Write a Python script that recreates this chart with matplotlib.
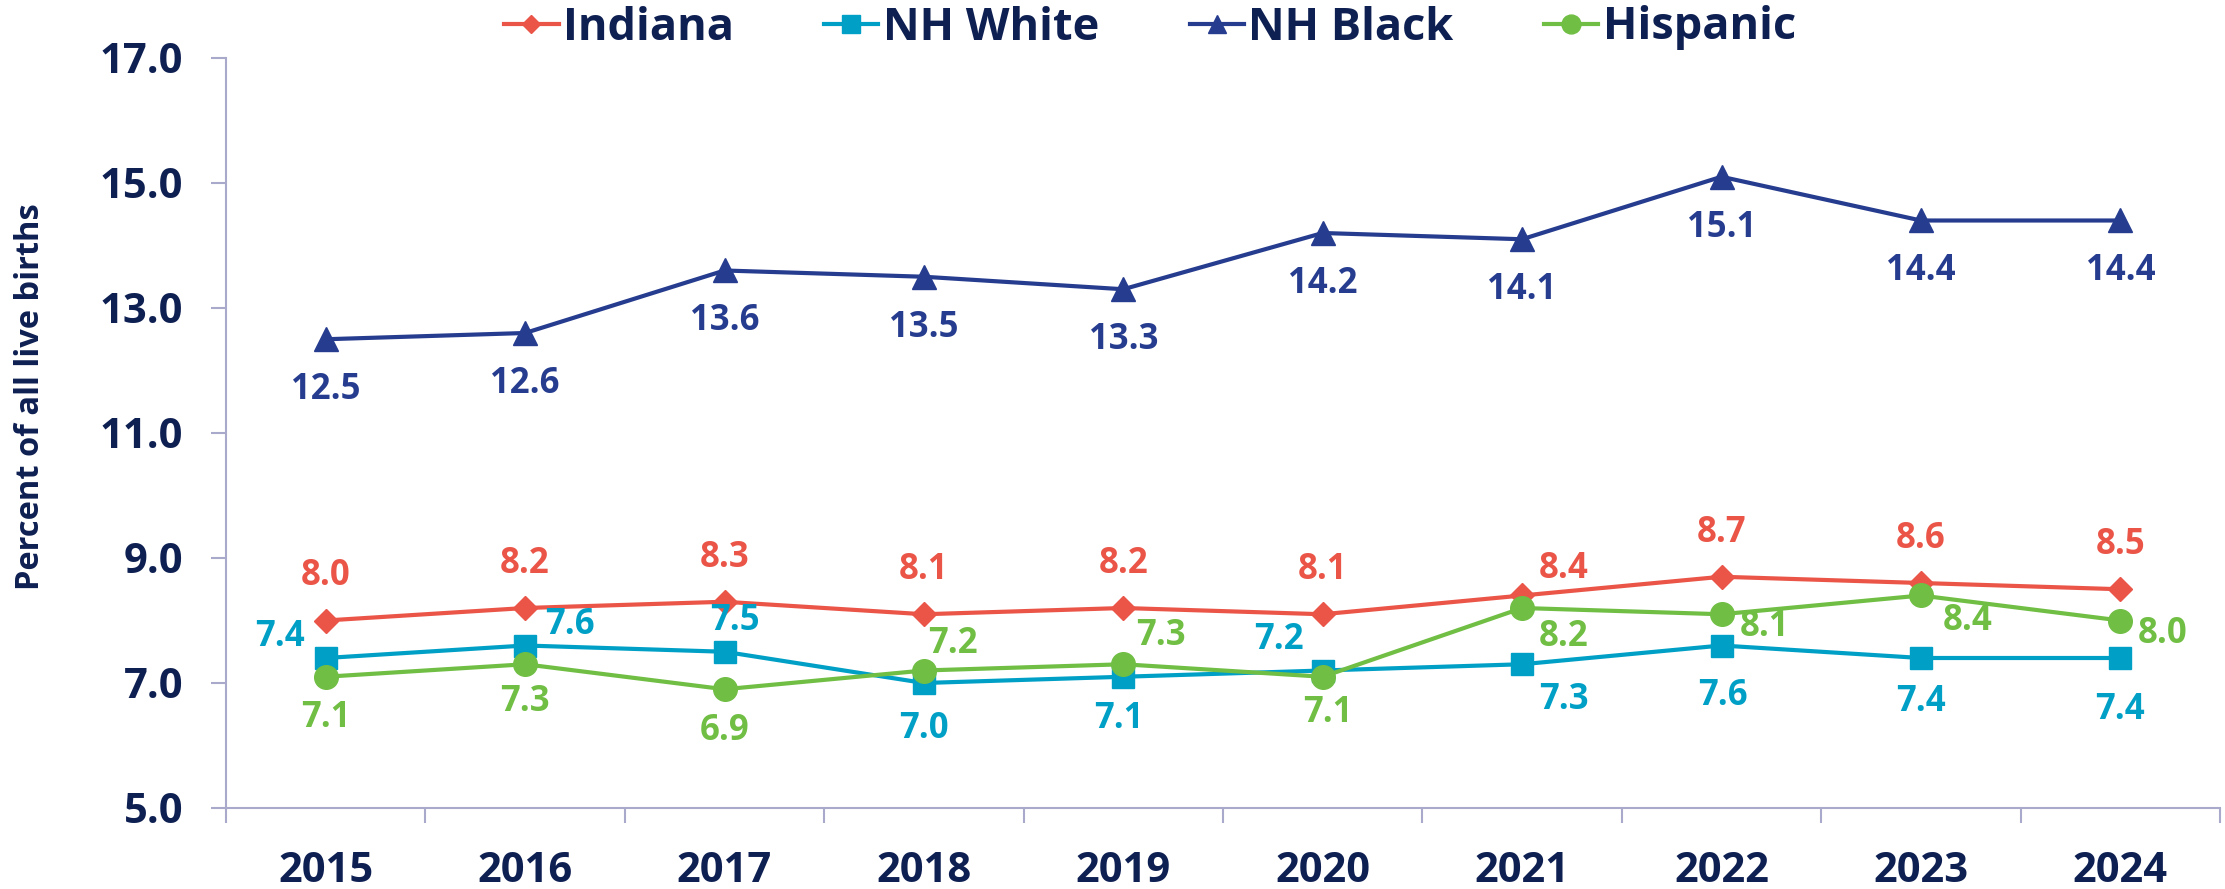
import matplotlib
matplotlib.use("Agg")
import matplotlib.pyplot as plt
from matplotlib.ticker import FixedLocator

plt.rcParams['font.family'] = ['Open Sans', 'DejaVu Sans']
plt.rcParams['font.weight'] = 'bold'

years = ["2015", "2016", "2017", "2018", "2019", "2020", "2021", "2022", "2023", "2024"]
indiana = [8.0, 8.2, 8.3, 8.1, 8.2, 8.1, 8.4, 8.7, 8.6, 8.5]
nh_white = [7.4, 7.6, 7.5, 7.0, 7.1, 7.2, 7.3, 7.6, 7.4, 7.4]
nh_black = [12.5, 12.6, 13.6, 13.5, 13.3, 14.2, 14.1, 15.1, 14.4, 14.4]
hispanic = [7.1, 7.3, 6.9, 7.2, 7.3, 7.1, 8.2, 8.1, 8.4, 8.0]

# label offsets in pixels (dx, dy)
off_ind = [(0, 44)] * 6 + [(42, 26)] + [(0, 44)] * 3
off_white = [(-46, 21), (45, 20), (10, 31), (0, -46), (-4, -42),
             (-44, 30), (42, -36), (1, -51), (0, -44), (0, -52)]
off_black = [(0, -51)] * 10
off_hisp = [(0, -41), (0, -38), (0, -42), (29, 26), (38, 28),
            (5, -36), (42, -29), (43, -13), (47, -26), (42, -14)]

navy = "#0E1F52"
axcol = "#A9AACB"
series = [
    ("Indiana", indiana, "#EA5548", "D", 12, off_ind),
    ("NH White", nh_white, "#00A0C6", "s", 16, off_white),
    ("NH Black", nh_black, "#263C8F", "^", 17, off_black),
    ("Hispanic", hispanic, "#70BE44", "o", 17, off_hisp),
]

fig = plt.figure(figsize=(22.25, 8.89), dpi=100)
ax = fig.add_axes([226 / 2225, 1 - 808 / 889, (2220 - 226) / 2225, (808 - 58) / 889])

x = list(range(len(years)))
for name, vals, col, mk, ms, offs in series:
    ax.plot(x, vals, color=col, lw=3, marker=mk, ms=ms, label=name)
    for xi, v, (dx, dy) in zip(x, vals, offs):
        ax.annotate(f"{v:.1f}", (xi, v), xytext=(dx, dy), textcoords='offset pixels',
                    ha='center', va='center', fontsize=25, color=col, fontweight='bold')

ax.set_xlim(-0.5, len(years) - 0.5)
ax.set_ylim(5, 17)
ax.set_yticks([5, 7, 9, 11, 13, 15, 17])
ax.set_yticklabels([f"{v:.1f}" for v in [5, 7, 9, 11, 13, 15, 17]])
ax.set_xticks(x)
ax.set_xticklabels(years)
ax.xaxis.set_minor_locator(FixedLocator([i - 0.5 for i in range(len(years) + 1)]))

ax.tick_params(axis='x', which='major', length=0, pad=31, labelsize=30, labelcolor=navy)
ax.tick_params(axis='x', which='minor', length=11, width=1.5, color=axcol, direction='out')
ax.tick_params(axis='y', length=11, width=1.5, color=axcol, pad=20, labelsize=30, labelcolor=navy)

for s in ['top', 'right']:
    ax.spines[s].set_visible(False)
for s in ['left', 'bottom']:
    ax.spines[s].set_color(axcol)
    ax.spines[s].set_linewidth(1.5)

fig.text(31 / 2225, 1 - 397 / 889, "Percent of all live births", rotation=90,
         ha='center', va='center', fontsize=23.5, color=navy, fontweight='bold')

fig.legend(loc='center', bbox_to_anchor=(1150 / 2225, 1 - 28 / 889), ncol=4, frameon=False,
           handlelength=1.2, handletextpad=0.1, columnspacing=2.0,
           markerscale=0.8, labelcolor=navy, prop={'weight': 'bold', 'size': 32.5})

fig.savefig("out.png", dpi=100)
